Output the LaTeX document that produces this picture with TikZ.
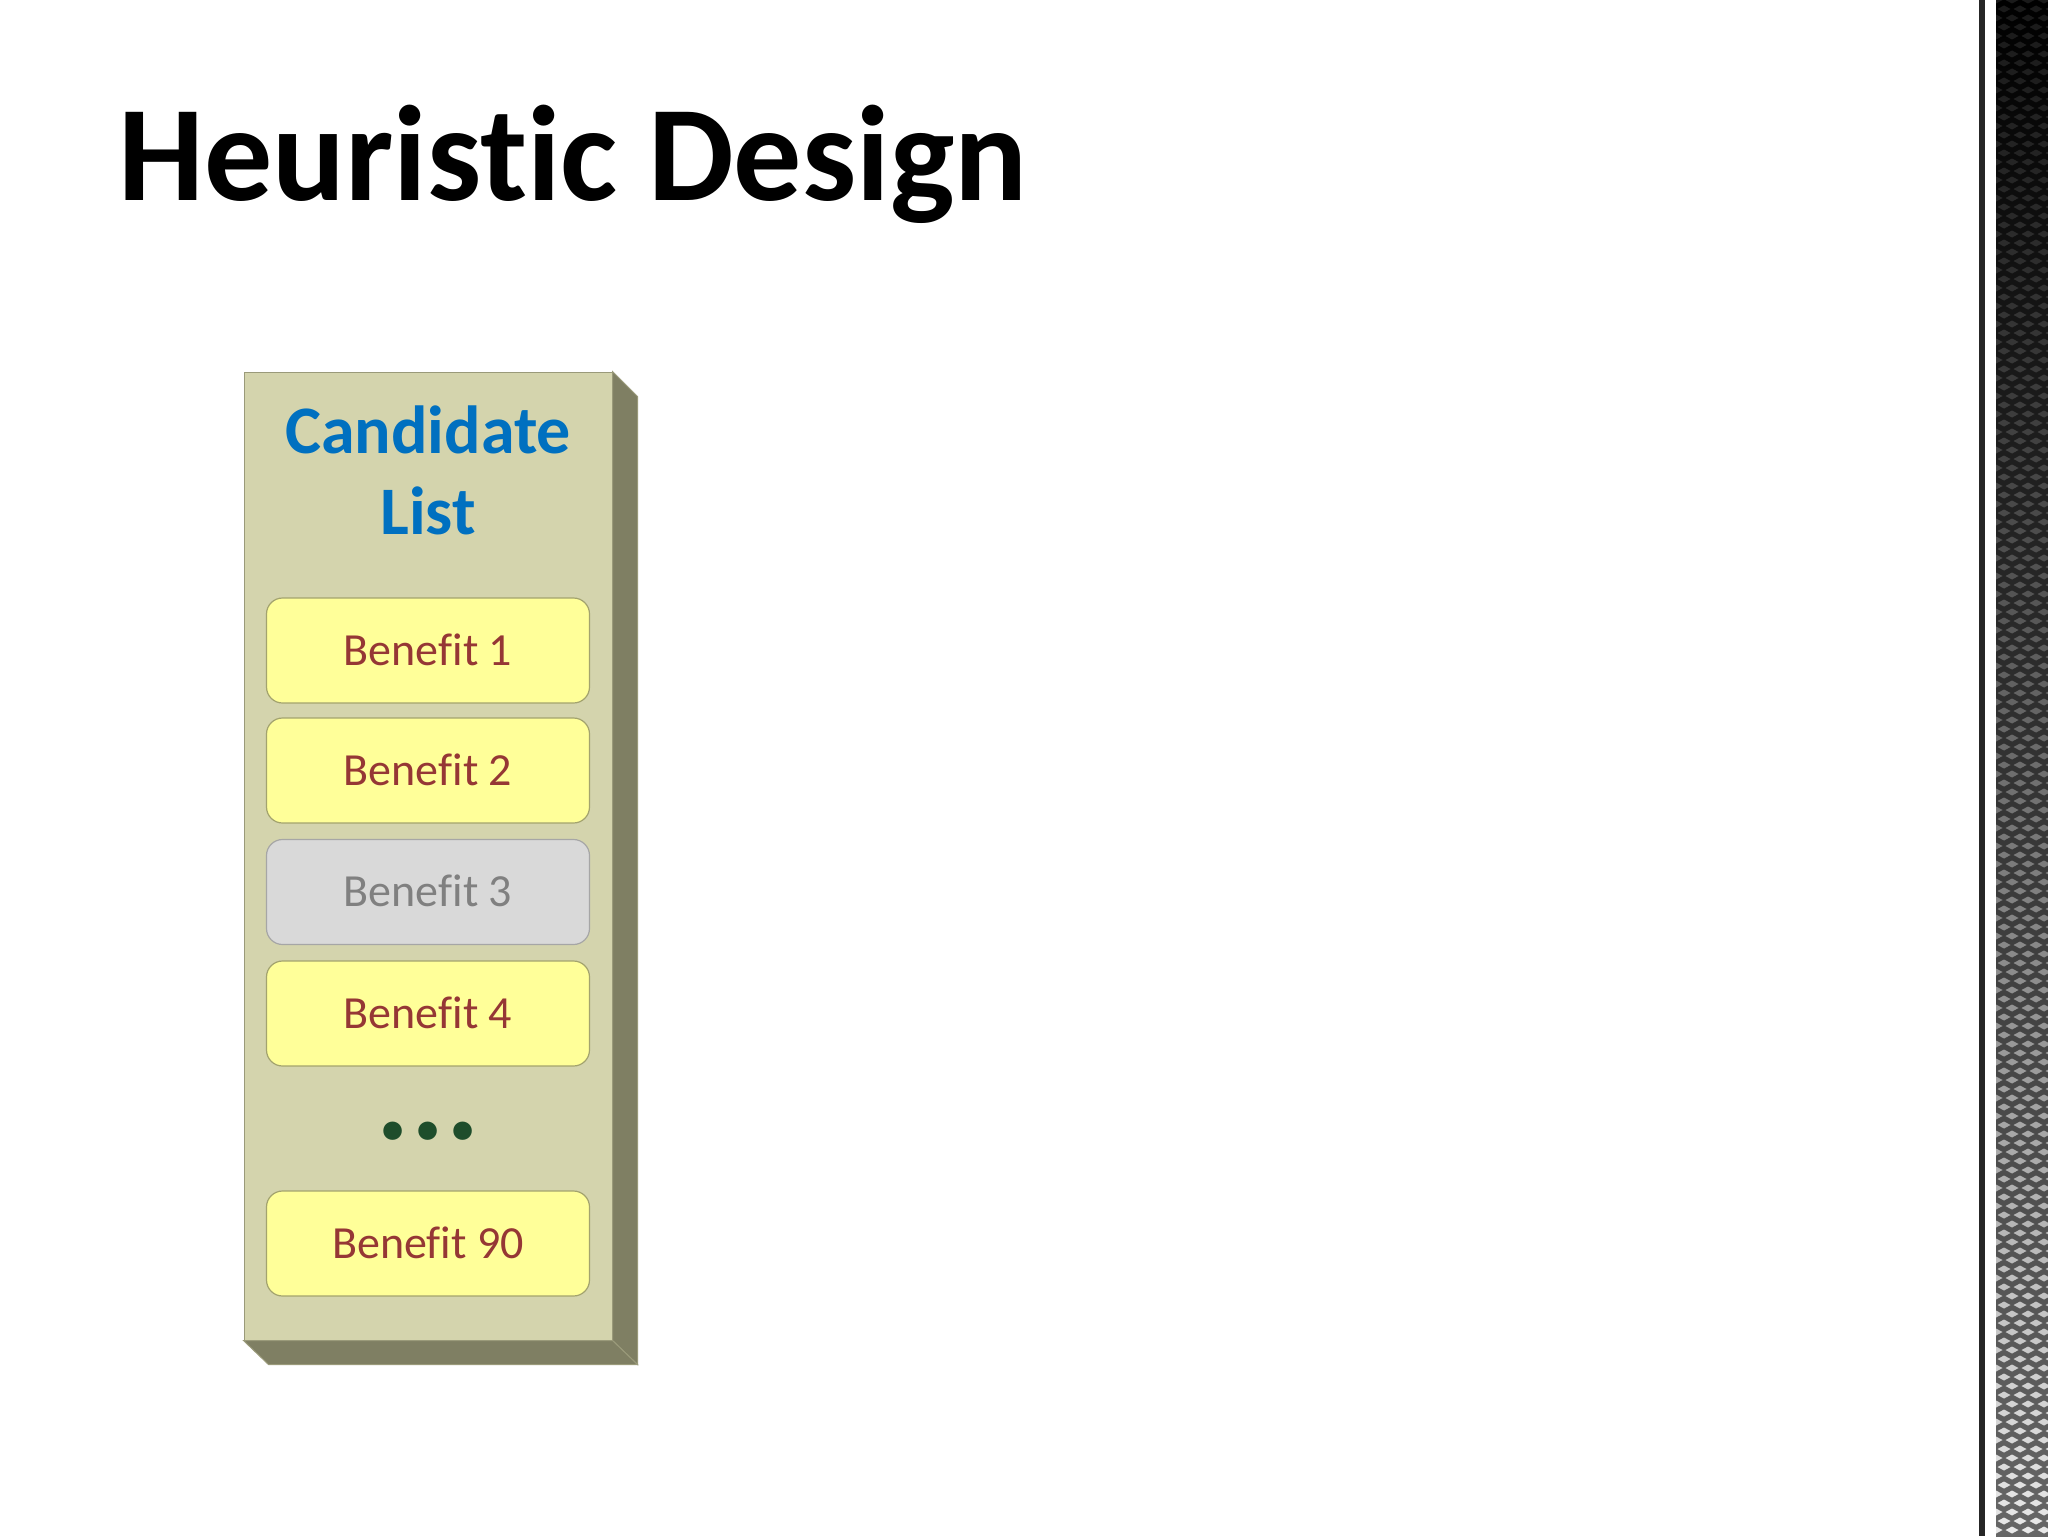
\documentclass[tikz,border=0pt]{standalone}
\usepackage{fontspec}
\setmainfont[Ligatures=NoCommon]{Carlito}
\usetikzlibrary{calc}
\definecolor{panelfront}{HTML}{D4D4AD}
\definecolor{panelside}{HTML}{7F7F63}
\definecolor{panelline}{HTML}{9A9A7A}
\definecolor{boxfill}{HTML}{FFFF99}
\definecolor{boxline}{HTML}{A3A36E}
\definecolor{benefittext}{HTML}{953735}
\definecolor{greyfill}{HTML}{D9D9D9}
\definecolor{greyline}{HTML}{A6A6A6}
\definecolor{greytext}{HTML}{808080}
\definecolor{candblue}{HTML}{0070C0}
\definecolor{dotgreen}{HTML}{1E4D2B}
\begin{document}
\begin{tikzpicture}[x=0.5pt,y=-0.5pt,
  benefit/.style={rounded corners=8pt, draw=boxline, fill=boxfill, line width=0.6pt,
    minimum width=161.5pt, minimum height=52.5pt, inner sep=0pt,
    text=benefittext, font=\fontsize{23}{27}\selectfont, text height=14.5pt, text depth=0pt},
  greyed/.style={fill=greyfill, draw=greyline, text=greytext},
  extrude/.style={fill=panelside, draw=panelline, line width=0.5pt}]
\useasboundingbox (0,0) rectangle (2048,1536);
\fill[white] (0,0) rectangle (2048,1536);

% title
\node[anchor=base west, inner sep=0pt, font=\bfseries\fontsize{68}{82}\selectfont] (title) at (118,200) {Heuristic Design};

% panel
\node[draw=panelline, fill=panelfront, line width=0.5pt, minimum width=184pt, minimum height=484pt, inner sep=0pt] (panel) at (428,856) {};
\filldraw[extrude] (panel.north east) -- ++(25,25) -- ($(panel.south east)+(25,24)$) -- (panel.south east) -- cycle;
\filldraw[extrude] (panel.south west) -- (panel.south east) -- ++(25,24) -- ($(panel.south west)+(25,24)$) -- cycle;

\node[font=\bfseries\fontsize{34}{40.5}\selectfont, text=candblue, align=center] (cand) at (428,470) {Candidate\\List};

\node[benefit] (b1) at (428,650.5) {Benefit 1};
\node[benefit] (b2) at (428,770.5) {Benefit 2};
\node[benefit, greyed] (b3) at (428,892) {Benefit 3};
\node[benefit] (b4) at (428,1013.5) {Benefit 4};
\node[font=\bfseries\fontsize{62}{70}\selectfont, text=dotgreen] (dots) at (428,1131) {.\hspace{1pt}.\hspace{1pt}.};
\node[benefit] (b90) at (428,1243.5) {Benefit 90};

% right edge decoration
\fill[black!85] (1979,0) rectangle (1985,1536);
\shade[top color=black, bottom color=black!60] (1996,0) rectangle (2048,1536);
\begin{scope}
\clip (1996,0) rectangle (2048,1536);
\foreach \r in {0,...,170} {
  \pgfmathsetmacro\op{0.10+0.75*(\r/170)^2}
  \pgfmathsetmacro\xo{mod(\r,2)*8}
  \foreach \c in {0,...,3} {
    \fill[white, opacity=\op] ({1996+\c*16+\xo},{\r*9-3.5}) -- ++(6.5,3.5) -- ++(-6.5,3.5) -- ++(-6.5,-3.5) -- cycle;
  }
}
\end{scope}
\end{tikzpicture}
\end{document}
